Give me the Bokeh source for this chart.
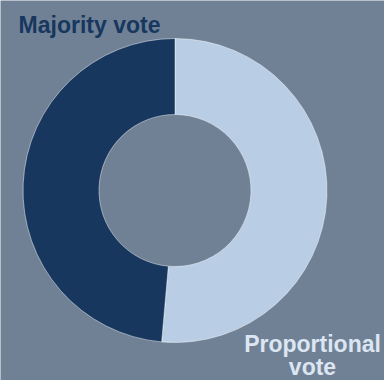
import math
from bokeh.plotting import figure
from bokeh.models import ColumnDataSource
from bokeh.core.properties import value
from bokeh.embed import file_html
from bokeh.resources import INLINE

# data
categories = ["Proportional vote", "Majority vote"]
shares = [51.4, 48.6]
slice_colors = ["#B9CDE5", "#17375E"]

label_lines = ["Majority vote", "Proportional", "vote"]
label_colors = ["#17375E", "#DCE6F2", "#DCE6F2"]

W, H = 384, 380
BG = "#708195"
cx, cy = 174.5, 190
r_out, r_in = 152, 76

total = sum(shares)
starts, ends = [], []
acc = 0.0
for s in shares:
    starts.append(math.pi / 2 - 2 * math.pi * acc / total)
    acc += s
    ends.append(math.pi / 2 - 2 * math.pi * acc / total)

src = ColumnDataSource(dict(
    cat=categories, val=shares, start=starts, end=ends, color=slice_colors,
    x=[cx] * len(shares), y=[cy] * len(shares),
))

p = figure(width=W, height=H, x_range=(0, W), y_range=(0, H),
           output_backend="svg", toolbar_location=None, min_border=0)
p.axis.visible = False
p.grid.visible = False
p.outline_line_color = None
p.background_fill_color = BG
p.border_fill_color = BG

p.annular_wedge(x="x", y="y", inner_radius=r_in, outer_radius=r_out,
                start_angle="start", end_angle="end", direction="clock",
                fill_color="color", line_color="#ffffff", line_alpha=0.45,
                line_width=1, source=src)

lsrc = ColumnDataSource(dict(
    x=[89, 312, 312],
    y=[H - 24, H - 343, H - 366],
    text=label_lines,
    color=label_colors,
))
p.text(x="x", y="y", text="text", text_color="color", source=lsrc,
       text_font=value("Liberation Sans"), text_font_style="bold",
       text_font_size="23px", text_align="center", text_baseline="alphabetic")

open("out.html", "w").write(file_html(p, INLINE))
